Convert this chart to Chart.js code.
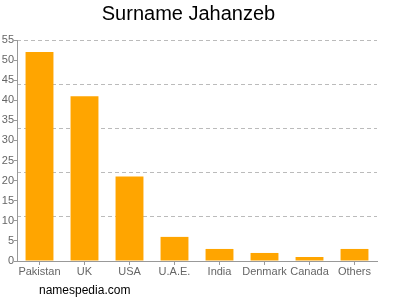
<!DOCTYPE html>
<html>
<head>
<meta charset="utf-8">
<script src="https://cdn.jsdelivr.net/npm/chart.js@4/dist/chart.umd.min.js"></script>
<style>
  html, body { margin: 0; padding: 0; background: #fff; }
  #wrap { width: 400px; height: 300px; }
</style>
</head>
<body>
<div id="wrap"><canvas id="surnameChart" width="400" height="300"></canvas></div>
<script>
// data
const countries = ['Pakistan', 'UK', 'USA', 'U.A.E.', 'India', 'Denmark', 'Canada', 'Others'];
const counts = [52, 41, 21, 6, 3, 2, 1, 3];
const yMax = 55;
const labelStep = 5;
const gridStep = 11;

// watermark in the bottom left corner
const watermark = {
    id: 'watermark',
    afterDraw(chart) {
        const ctx = chart.ctx;
        ctx.save();
        ctx.font = '12px "Liberation Sans", Arial, sans-serif';
        ctx.fillStyle = '#000';
        ctx.textBaseline = 'middle';
        ctx.fillText('namespedia.com', 39, 291);
        ctx.restore();
    }
};

new Chart(document.getElementById('surnameChart'), {
    type: 'bar',
    data: {
        labels: countries,
        datasets: [{
            data: counts,
            backgroundColor: '#ffa500',
            borderWidth: 0,
            categoryPercentage: 1,
            barPercentage: 0.62
        }]
    },
    options: {
        responsive: false,
        animation: false,
        layout: { padding: { top: 0, right: 23, bottom: 19, left: 0 } },
        plugins: {
            legend: { display: false },
            tooltip: { enabled: false },
            title: {
                display: true,
                text: 'Surname Jahanzeb',
                color: '#000',
                font: { family: '"Liberation Sans", Arial, sans-serif', size: 20, weight: 'normal' },
                padding: { top: 2, bottom: 14 }
            }
        },
        scales: {
            x: {
                grid: { display: true, drawOnChartArea: false, offset: false, tickLength: 4, color: '#999' },
                border: { display: true, color: '#999' },
                ticks: {
                    color: '#666',
                    padding: 0,
                    maxRotation: 0,
                    autoSkip: false,
                    font: { family: '"Liberation Sans", Arial, sans-serif', size: 11 }
                },
                afterFit(scale) { scale.height = 20; }
            },
            y: {
                position: 'left',
                min: 0,
                max: yMax,
                grid: { display: true, drawOnChartArea: false, tickLength: 3, color: '#999' },
                border: { display: true, color: '#999' },
                ticks: {
                    stepSize: labelStep,
                    color: '#666',
                    padding: 0,
                    font: { family: '"Liberation Sans", Arial, sans-serif', size: 11 }
                },
                afterFit(scale) { scale.width = 17; }
            },
            yGrid: {
                position: 'left',
                min: 0,
                max: yMax,
                grid: { display: true, drawTicks: false, tickLength: 0, color: '#bbb' },
                border: { display: false, dash: [4, 3] },
                ticks: { display: false, stepSize: gridStep },
                afterFit(scale) { scale.width = 0; }
            }
        }
    },
    plugins: [watermark]
});
</script>
</body>
</html>
